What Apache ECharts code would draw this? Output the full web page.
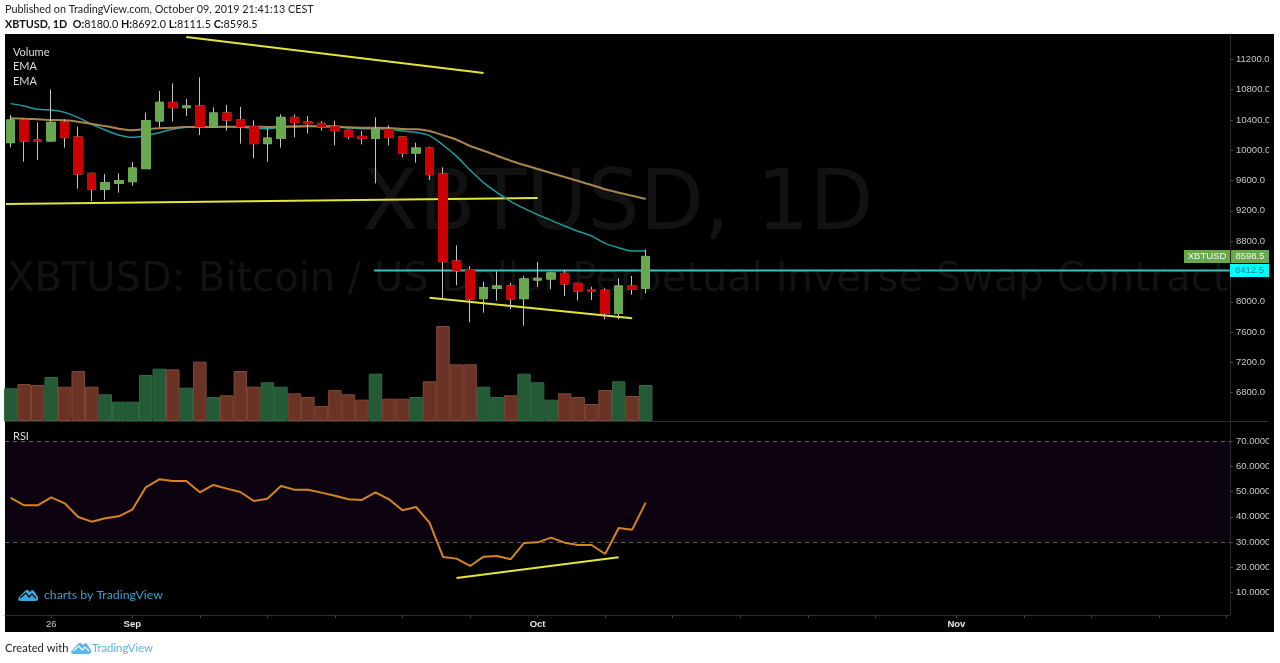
<!DOCTYPE html>
<html>
<head>
<meta charset="utf-8">
<title>XBTUSD, 1D</title>
<style>
html,body{margin:0;padding:0;background:#fff;}
#main{width:1280px;height:663px;}
</style>
</head>
<body>
<div id="main"></div>
<script src="https://cdn.jsdelivr.net/npm/echarts@6/dist/echarts.min.js"></script>
<script type="text/javascript">
// daily bars, index 0 = 23 Aug 2019, index 47 = 9 Oct 2019
var open = [10100,10399,10135,10122,10373,10175,9695,9484,9563,9585,9757,10386,10632,10562,10584,10307,10491,10403,10311,10087,10157,10434,10373,10355,10311,10263,10183,10157,10276,10175,9963,10029,9686,8538,8424,8041,8177,8208,8041,8287,8301,8375,8243,8155,8151,7847,8208,8180];
var close = [10399,10122,10122,10368,10166,9686,9484,9572,9598,9765,10390,10632,10562,10584,10307,10491,10399,10307,10087,10161,10434,10364,10351,10307,10258,10179,10157,10280,10166,9959,10029,9678,8529,8415,8037,8186,8208,8037,8301,8309,8380,8235,8142,8138,7847,8208,8164,8598.5];
var high = [10465,10421,10368,10804,10408,10311,9704,9686,9695,9845,10496,10782,10883,10676,10962,10566,10597,10571,10395,10285,10474,10474,10452,10386,10390,10276,10254,10434,10329,10175,10100,10047,9774,8745,8472,8265,8402,8248,8345,8525,8397,8419,8243,8199,8177,8309,8340,8692];
var low = [10038,9849,9871,10113,10034,9493,9330,9343,9440,9532,9757,10302,10381,10452,10201,10307,10258,10087,9893,9849,10034,10170,10223,10258,10065,10144,10078,9563,10065,9906,9836,9607,8024,8217,7729,7856,8015,7900,7685,8199,8169,8076,8015,8024,7768,7768,8094,8111.5];
var volume = [3.27,3.70,3.60,4.40,3.43,5.00,3.43,2.67,1.93,1.93,4.60,5.23,5.17,3.33,5.93,2.40,2.57,5.00,3.43,3.87,3.43,2.77,2.40,1.50,3.10,2.67,2.13,4.73,2.23,2.23,2.40,3.97,9.50,5.67,5.67,3.43,2.40,2.57,4.73,3.87,2.13,2.77,2.40,1.70,3.10,3.97,2.50,3.60];
var emaFast = [10615,10584,10540,10531,10500,10430,10342,10267,10201,10170,10192,10232,10276,10302,10302,10302,10311,10307,10289,10285,10302,10307,10315,10311,10307,10293,10285,10285,10276,10254,10236,10192,10069,9919,9739,9572,9440,9326,9233,9150,9075,9000,8930,8868,8771,8714,8670,8670];
var emaSlow = [10421,10417,10408,10399,10395,10377,10346,10320,10285,10263,10280,10289,10298,10307,10307,10307,10311,10311,10311,10307,10311,10315,10315,10315,10315,10302,10298,10298,10293,10280,10276,10254,10197,10139,10056,9994,9928,9862,9805,9752,9700,9647,9594,9541,9484,9440,9400,9356];
var rsi = [47.48,44.56,44.56,47.74,45.36,39.93,38.07,39.40,40.19,42.84,51.71,54.89,54.23,54.23,49.73,52.64,51.19,49.86,46.29,47.21,52.24,50.79,50.79,49.60,48.40,46.95,46.68,49.73,46.95,42.58,43.90,37.68,24.04,23.38,20.46,24.17,24.43,23.11,29.60,29.86,31.72,29.73,28.80,28.80,25.23,35.56,34.90,45.62];

// drawn trend lines, [bar index, value]
var trendTop = [[13,11494],[35,11019]];
var trendSupport = [[-0.35,9290],[39,9369]];
var trendWedge = [[31,8054],[46,7781]];
var trendRsi = [[33,15.7],[45,23.9]];
var levelStart = 26.9;
var levelPrice = 8412.5;
var lastPrice = 8598.5;

var priceTicks = [6800,7200,7600,8000,8400,8800,9200,9600,10000,10400,10800,11200];
var rsiTicks = [10,20,30,40,50,60,70];
var timeTickIdx = [3,9,14,19,24,29,34,39,44,49,54,59,64,70,75,80,85,90];
var timeLabelIdx = [3,9,39,70];
var timeLabels = ['26','Sep','Oct','Nov'];

var xMin = -0.42, xMax = 90.25;

var upColor = '#6aa84f', downColor = '#cc0000', wickColor = '#c4c4c4';
var yellow = '#e4e43a', axisText = '#c8c8c8', axisLine = '#2c2c2c';
var uiFont = 'Lato', axisFont = '"Liberation Sans"', markFont = '"DejaVu Sans"';
var axisSize = 9.5;

var wickData = [], bodyData = [], volumeData = [], fastData = [], slowData = [], rsiData = [];
for (var i = 0; i < open.length; i++) {
    wickData.push([i, open[i], close[i], low[i], high[i]]);
    bodyData.push([i, open[i], close[i], Math.min(open[i], close[i]), Math.max(open[i], close[i])]);
    var up = close[i] >= open[i];
    volumeData.push({
        value: [i, volume[i]],
        itemStyle: {color: up ? '#245a36' : '#6b3325', borderColor: up ? '#2f6b44' : '#7f4a38', borderWidth: 1}
    });
    fastData.push([i, emaFast[i]]);
    slowData.push([i, emaSlow[i]]);
    rsiData.push([i, rsi[i]]);
}

function trend(data, xi, yi) {
    return {
        type: 'line', xAxisIndex: xi, yAxisIndex: yi, data: data, symbol: 'none', silent: true, z: 3,
        lineStyle: {color: yellow, width: 2}
    };
}

function text(str, x, y, size, fill, family, extra) {
    var style = {text: str, x: x, y: y, fontSize: size, fontFamily: family, fill: fill, verticalAlign: 'middle'};
    for (var k in extra) style[k] = extra[k];
    return {type: 'text', z: 20, silent: true, style: style};
}

// cloud logo, cut = colour of the zigzag through it
function logo(x, y, color, cut) {
    return [{
        type: 'polygon', x: x, y: y, z: 20, silent: true,
        shape: {points: [[0,11],[1,8],[8,1],[10,1],[12,3],[14,1],[16,2],[20,8],[20,11],[18,12],[2,12]]},
        style: {fill: color}
    }, {
        type: 'polyline', x: x, y: y, z: 21, silent: true,
        shape: {points: [[2,9],[8,4],[11,8],[14,5],[18,9]]},
        style: {fill: 'none', stroke: cut, lineWidth: 1.2}
    }];
}

var graphics = [
    {type: 'rect', z: -10, silent: true, shape: {x: 5, y: 34, width: 1269, height: 598}, style: {fill: '#000'}},
    // watermark
    {type: 'text', z: -9, silent: true, style: {text: 'XBTUSD, 1D', x: 362, y: 207, fontSize: 83, fontFamily: markFont, fill: '#121212', verticalAlign: 'middle'}},
    {type: 'text', z: -9, silent: true, style: {text: 'XBTUSD: Bitcoin / US Dollar Perpetual Inverse Swap Contract', x: 7, y: 281, fontSize: 40, fontFamily: markFont, fill: '#121212', verticalAlign: 'middle'}},
    // price scale clips its text short of the panel edge
    {type: 'rect', z: 30, silent: true, shape: {x: 1269, y: 34, width: 5, height: 598}, style: {fill: '#000'}},
    {type: 'line', z: 4, silent: true, shape: {x1: 1230, y1: 421.5, x2: 1274, y2: 421.5}, style: {stroke: axisLine, lineWidth: 1}},
    text('Published on TradingView.com, October 09, 2019 21:41:13 CEST', 5, 10, 10.8, '#222', uiFont),
    text('{b|XBTUSD, 1D}  {b|O:}8180.0 {b|H:}8692.0 {b|L:}8111.5 {b|C:}8598.5', 5, 25, 10.8, '#111', uiFont, {
        rich: {b: {fontWeight: 'bold', fontSize: 10.8, fontFamily: uiFont, fill: '#111'}}
    }),
    text('Volume', 13, 52, 11, '#ddd', uiFont),
    text('EMA', 13, 66, 11, '#ddd', uiFont),
    text('EMA', 13, 81, 11, '#ddd', uiFont),
    text('RSI', 13, 436, 11, '#ddd', uiFont),
    text('charts by TradingView', 44, 595, 12.3, '#3a9fd0', uiFont),
    text('Created with', 5, 648, 11.2, '#222', uiFont),
    text('TradingView', 92, 648, 11.3, '#5ab4e0', uiFont)
].concat(logo(18, 589, '#3aa6dc', '#000')).concat(logo(71, 642, '#5ab8ea', '#fff'));

var option = {
    backgroundColor: '#fff',
    animation: false,
    graphic: graphics,
    grid: [
        {left: 5, width: 1225, top: 34, height: 387},
        {left: 5, width: 1225, top: 421, height: 194}
    ],
    xAxis: [{
        type: 'value', gridIndex: 0, min: xMin, max: xMax, splitLine: {show: false},
        axisLine: {show: true, onZero: false, lineStyle: {color: axisLine}},
        axisTick: {show: false}, axisLabel: {show: false}
    }, {
        type: 'value', gridIndex: 1, min: xMin, max: xMax, splitLine: {show: false},
        axisLine: {show: true, onZero: false, lineStyle: {color: axisLine}},
        axisTick: {show: true, length: 3, customValues: timeTickIdx, lineStyle: {color: '#444'}},
        axisLabel: {
            show: true, customValues: timeLabelIdx, margin: 4, color: axisText, fontSize: axisSize, fontFamily: axisFont,
            formatter: function (v) {
                var s = timeLabels[timeLabelIdx.indexOf(v)];
                return isNaN(s) ? '{b|' + s + '}' : s;
            },
            rich: {b: {fontWeight: 'bold', color: '#e6e6e6', fontSize: axisSize, fontFamily: axisFont}}
        }
    }],
    yAxis: [{
        type: 'value', gridIndex: 0, position: 'right', min: 6426.5, max: 11534, splitLine: {show: false},
        axisLine: {show: true, onZero: false, lineStyle: {color: axisLine}},
        axisTick: {show: true, length: 3, customValues: priceTicks, lineStyle: {color: '#444'}},
        axisLabel: {
            show: true, customValues: priceTicks, margin: 6, color: axisText, fontSize: axisSize, fontFamily: axisFont,
            formatter: function (v) { return v.toFixed(1); }
        }
    }, {
        // volume overlay, in billions, tallest bar about a quarter of the pane
        type: 'value', gridIndex: 0, position: 'left', min: 0, max: 38.7, show: false, splitLine: {show: false}
    }, {
        type: 'value', gridIndex: 1, position: 'right', min: 0.98, max: 78.07, splitLine: {show: false},
        axisLine: {show: true, onZero: false, lineStyle: {color: axisLine}},
        axisTick: {show: true, length: 3, customValues: rsiTicks, lineStyle: {color: '#444'}},
        axisLabel: {
            show: true, customValues: rsiTicks, margin: 6, color: axisText, fontSize: axisSize, fontFamily: axisFont,
            formatter: function (v) { return v.toFixed(4); }
        }
    }],
    series: [
        {
            type: 'bar', xAxisIndex: 0, yAxisIndex: 1, data: volumeData, barWidth: 13.5, silent: true, z: 2
        },
        trend(trendTop, 0, 0),
        trend(trendSupport, 0, 0),
        trend(trendWedge, 0, 0),
        {
            // horizontal level with the two price tags on the scale
            type: 'line', xAxisIndex: 0, yAxisIndex: 0, symbol: 'none', silent: true, z: 3,
            data: [[levelStart, levelPrice], [xMax, levelPrice]],
            lineStyle: {color: '#3fbcc2', width: 2},
            markPoint: {
                silent: true, symbol: 'rect', z: 12,
                data: [{
                    coord: [xMax, lastPrice], symbolSize: [46, 13], symbolOffset: [-23, 0],
                    itemStyle: {color: upColor},
                    label: {show: true, formatter: 'XBTUSD', color: '#f2f2f2', fontSize: axisSize, fontFamily: axisFont}
                }, {
                    coord: [xMax, lastPrice], symbolSize: [38, 13], symbolOffset: [20, 0],
                    itemStyle: {color: upColor},
                    label: {show: true, formatter: lastPrice.toFixed(1), color: '#f2f2f2', fontSize: axisSize, fontFamily: axisFont}
                }, {
                    coord: [xMax, levelPrice], symbolSize: [39, 13], symbolOffset: [19.5, 0],
                    itemStyle: {color: '#00ffff'},
                    label: {show: true, formatter: levelPrice.toFixed(1), color: '#0a7f8f', fontSize: axisSize, fontFamily: axisFont}
                }]
            }
        },
        {
            type: 'line', xAxisIndex: 0, yAxisIndex: 0, data: fastData, symbol: 'none', smooth: 0.3, silent: true, z: 4,
            lineStyle: {color: '#1c9c9e', width: 1.5}
        },
        {
            type: 'line', xAxisIndex: 0, yAxisIndex: 0, data: slowData, symbol: 'none', smooth: 0.3, silent: true, z: 4,
            lineStyle: {color: '#a8854c', width: 2}
        },
        {
            type: 'candlestick', xAxisIndex: 0, yAxisIndex: 0, data: wickData, barWidth: 9, silent: true, z: 5,
            itemStyle: {color: upColor, color0: downColor, borderColor: wickColor, borderColor0: wickColor, borderWidth: 1}
        },
        {
            type: 'candlestick', xAxisIndex: 0, yAxisIndex: 0, data: bodyData, barWidth: 9, silent: true, z: 6,
            itemStyle: {color: upColor, color0: downColor, borderColor: upColor, borderColor0: downColor, borderWidth: 1}
        },
        {
            type: 'line', xAxisIndex: 1, yAxisIndex: 2, data: rsiData, symbol: 'none', silent: true, z: 5,
            lineStyle: {color: '#d5851f', width: 2},
            markArea: {
                silent: true,
                itemStyle: {color: '#0d0210'},
                data: [[{xAxis: xMin, yAxis: 30}, {xAxis: xMax, yAxis: 70}]]
            },
            markLine: {
                silent: true, symbol: 'none', label: {show: false},
                lineStyle: {color: '#666', type: [4, 4], width: 1},
                data: [{yAxis: 70}, {yAxis: 30}]
            }
        },
        trend(trendRsi, 1, 2)
    ]
};

var chart = echarts.init(document.getElementById('main'));
chart.setOption(option);
</script>
</body>
</html>
